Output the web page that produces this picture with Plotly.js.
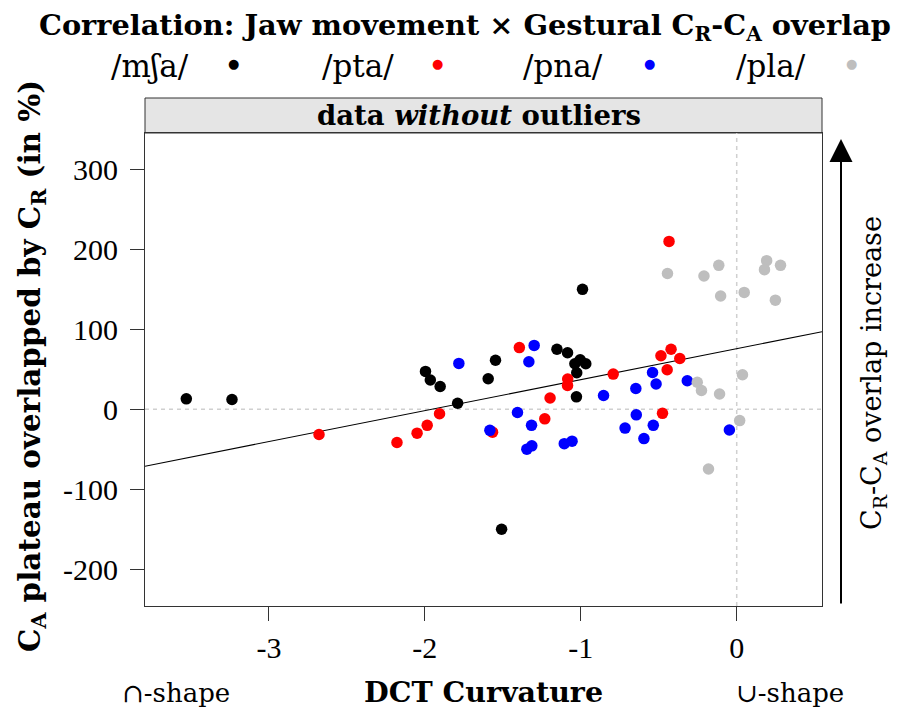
<!DOCTYPE html>
<html>
<head>
<meta charset="utf-8">
<script src="https://cdn.plot.ly/plotly-3.0.1.min.js"></script>
<style>html,body{margin:0;padding:0;background:#fff;}#chart{width:897px;height:711px;}</style>
</head>
<body>
<div id="chart"></div>
<script>
// ---- data (DCT curvature, % C_A plateau overlapped by C_R) ----
const groups = ["/mʃa/", "/pta/", "/pna/", "/pla/"];
const groupColors = ["#000000", "#FF0000", "#0000FF", "#BEBEBE"];

const mshaX = [-3.530,-3.237,-1.996,-1.965,-1.902,-1.790,-1.594,-1.547,-1.508,-1.153,-1.085,-1.038,-1.004,-0.968,-1.026,-1.028,-0.989];
const mshaY = [13.1,12.3,47.3,36.6,28.5,7.5,38.1,61.3,-149.8,75.0,70.6,56.9,61.9,56.9,45.6,15.6,149.8];

const ptaX = [-2.679,-2.179,-2.050,-1.985,-1.906,-1.566,-1.394,-1.231,-1.197,-1.084,-1.085,-0.792,-0.486,-0.421,-0.365,-0.446,-0.476,-0.434];
const ptaY = [-31.5,-41.5,-29.8,-20.0,-5.6,-28.5,77.1,-11.9,14.1,37.9,29.8,44.0,66.9,75.0,63.5,49.4,-5.0,209.6];

const pnaX = [-1.782,-1.583,-1.406,-1.333,-1.299,-1.316,-1.346,-1.314,-1.106,-1.056,-0.854,-0.647,-0.540,-0.517,-0.317,-0.644,-0.716,-0.535,-0.595,-0.047];
const pnaY = [57.3,-26.3,-4.0,59.4,79.8,-20.0,-49.8,-45.6,-42.9,-39.8,17.3,26.0,46.0,31.6,35.6,-6.9,-23.5,-20.0,-36.6,-25.9];

const plaX = [-0.444,-0.210,-0.115,-0.103,0.048,0.192,0.178,0.281,0.248,-0.253,-0.226,-0.110,0.037,0.019,-0.181];
const plaY = [169.6,166.5,179.8,141.5,146.0,185.6,174.4,179.8,136.3,33.8,23.5,19.1,43.1,-14.1,-74.6];

const xTickVals = [-3,-2,-1,0];
const xTickText = ["-3","-2","-1","0"];
const yTickVals = [300,200,100,0,-100,-200];
const yTickText = ["300","200","100","0","-100","-200"];

// ---- layout constants ----
const W = 897, H = 711;
const M = {l:145, r:75, t:133, b:105};
const xRange = [-3.795, 0.547];
const yRange = [-245.6, 345];
const SERIF = "DejaVu Serif, serif";
const TICKF = "Liberation Serif, Times New Roman, serif";
const plotW = W - M.l - M.r, plotH = H - M.t - M.b;
const px2x = p => (p - M.l) / plotW;        // page px -> paper x
const py2y = p => (H - M.b - p) / plotH;    // page px -> paper y

// OLS regression over all points
const allX = [].concat(mshaX, ptaX, pnaX, plaX);
const allY = [].concat(mshaY, ptaY, pnaY, plaY);
const n = allX.length;
const mx = allX.reduce((a,b)=>a+b,0)/n, my = allY.reduce((a,b)=>a+b,0)/n;
let sxy = 0, sxx = 0;
for (let i=0;i<n;i++){ sxy += (allX[i]-mx)*(allY[i]-my); sxx += (allX[i]-mx)**2; }
const slope = sxy/sxx, intercept = my - slope*mx;

const seriesX = [mshaX, ptaX, pnaX, plaX];
const seriesY = [mshaY, ptaY, pnaY, plaY];

const traces = [];
traces.push({
  x: xRange, y: xRange.map(v => intercept + slope*v),
  mode: "lines", line: {color: "#000", width: 1.1},
  hoverinfo: "skip", showlegend: false
});
for (let g=0; g<groups.length; g++){
  traces.push({
    x: seriesX[g], y: seriesY[g], mode: "markers", name: groups[g],
    marker: {color: groupColors[g], size: 11.5, line: {width: 0}},
    showlegend: false
  });
}

const annotations = [];
// strip label
annotations.push({xref:"paper", yref:"paper", x:px2x(479), y:1 + 17.5/plotH, xanchor:"center", yanchor:"middle",
  text:"<b>data <i>without</i> outliers</b>", showarrow:false, font:{family:SERIF, size:27.5, color:"#000"}});
// legend labels and keys
const legLabelPx = [150, 358, 563, 771];
const legDotPx = [233, 437, 649, 851];
for (let g=0; g<groups.length; g++){
  annotations.push({xref:"paper", yref:"paper", x:px2x(legLabelPx[g]), y:py2y(66), xanchor:"center", yanchor:"middle",
    text: groups[g], showarrow:false, font:{family:SERIF, size:31, color:"#000"}});
  annotations.push({xref:"paper", yref:"paper", x:px2x(legDotPx[g]), y:py2y(64), xanchor:"center", yanchor:"middle",
    text:"●", showarrow:false, font:{family:"DejaVu Sans", size:13, color:groupColors[g]}});
}
// y title
annotations.push({xref:"paper", yref:"paper", x:px2x(31), y:py2y(366), xanchor:"center", yanchor:"middle", textangle:-90,
  text:"<b>C<sub>A</sub> plateau overlapped by C<sub>R</sub> (in %)</b>", showarrow:false, font:{family:SERIF, size:29.4, color:"#000"}});
// x title and shape labels
annotations.push({xref:"paper", yref:"paper", x:0.5, y:py2y(692), xanchor:"center", yanchor:"middle",
  text:"<b>DCT Curvature</b>", showarrow:false, font:{family:SERIF, size:28.5, color:"#000"}});
annotations.push({xref:"paper", yref:"paper", x:px2x(176), y:py2y(693), xanchor:"center", yanchor:"middle",
  text:"∩-shape", showarrow:false, font:{family:SERIF, size:26, color:"#000"}});
annotations.push({xref:"paper", yref:"paper", x:px2x(790), y:py2y(693), xanchor:"center", yanchor:"middle",
  text:"∪-shape", showarrow:false, font:{family:SERIF, size:26, color:"#000"}});
// right side arrow and text
annotations.push({xref:"paper", yref:"paper", x:px2x(841), y:py2y(139), ax:0, ay:466, axref:"pixel", ayref:"pixel",
  text:"", showarrow:true, arrowhead:2, arrowsize:2.3, arrowwidth:2, arrowcolor:"#000"});
annotations.push({xref:"paper", yref:"paper", x:px2x(873), y:py2y(373), xanchor:"center", yanchor:"middle", textangle:-90,
  text:"C<sub>R</sub>-C<sub>A</sub> overlap increase", showarrow:false, font:{family:SERIF, size:27, color:"#000"}});

const shapes = [
  {type:"rect", xref:"paper", yref:"paper", x0:0, x1:1, y0:1, y1:1+35/plotH, fillcolor:"#E5E5E5", line:{color:"#333", width:1}, layer:"below"},
  {type:"line", xref:"x", yref:"paper", x0:0, x1:0, y0:0, y1:1, line:{color:"#D0D0D0", width:1.5, dash:"4px,4px"}, layer:"below"},
  {type:"line", xref:"paper", yref:"y", x0:0, x1:1, y0:0, y1:0, line:{color:"#D0D0D0", width:1.5, dash:"4px,4px"}, layer:"below"}
];

const layout = {
  width: W, height: H,
  margin: M,
  paper_bgcolor: "#fff", plot_bgcolor: "#fff",
  showlegend: false,
  title: {text:"<b>Correlation: Jaw movement × Gestural C<sub>R</sub>-C<sub>A</sub> overlap</b>",
    x: 465/W, xref:"container", xanchor:"center", y: 1 - 25/H, yref:"container", yanchor:"middle",
    font:{family:SERIF, size:28.8, color:"#000"}},
  xaxis: {range:xRange, tickvals:xTickVals, ticktext:xTickText, ticks:"outside", ticklen:14, tickwidth:1, tickcolor:"#333",
    showline:true, linecolor:"#333", linewidth:1, mirror:true, showgrid:false, zeroline:false,
    tickfont:{family:TICKF, size:30, color:"#000"}, ticklabelstandoff:1},
  yaxis: {range:yRange, tickvals:yTickVals, ticktext:yTickText, ticks:"outside", ticklen:14, tickwidth:1, tickcolor:"#333",
    showline:true, linecolor:"#333", linewidth:1, mirror:true, showgrid:false, zeroline:false,
    tickfont:{family:TICKF, size:30, color:"#000"}, ticklabelstandoff:6},
  annotations: annotations,
  shapes: shapes
};

Plotly.newPlot("chart", traces, layout, {displayModeBar:false, staticPlot:true});
</script>
</body>
</html>
